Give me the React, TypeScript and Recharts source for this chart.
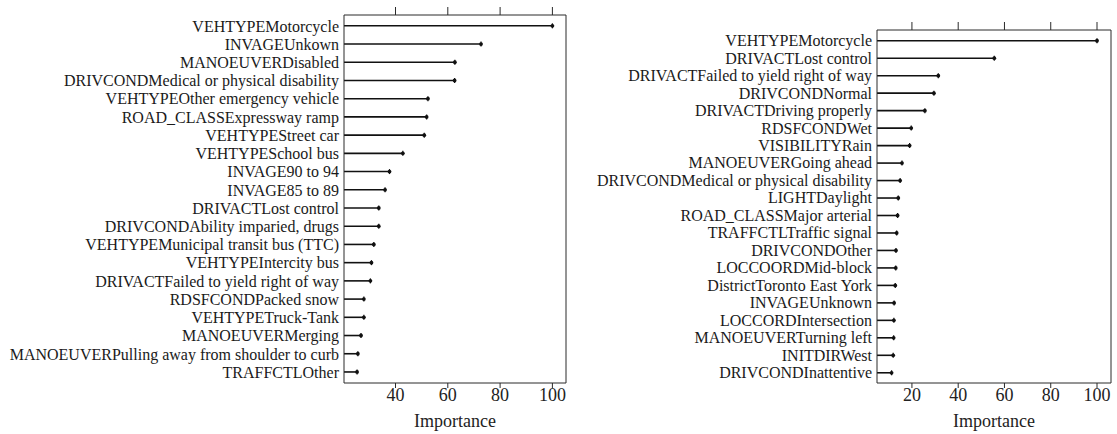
import React from "react";
import { BarChart, Bar, XAxis, YAxis } from "recharts";

const leftLabels = [
  "VEHTYPEMotorcycle",
  "INVAGEUnkown",
  "MANOEUVERDisabled",
  "DRIVCONDMedical or physical disability",
  "VEHTYPEOther emergency vehicle",
  "ROAD_CLASSExpressway ramp",
  "VEHTYPEStreet car",
  "VEHTYPESchool bus",
  "INVAGE90 to 94",
  "INVAGE85 to 89",
  "DRIVACTLost control",
  "DRIVCONDAbility imparied, drugs",
  "VEHTYPEMunicipal transit bus (TTC)",
  "VEHTYPEIntercity bus",
  "DRIVACTFailed to yield right of way",
  "RDSFCONDPacked snow",
  "VEHTYPETruck-Tank",
  "MANOEUVERMerging",
  "MANOEUVERPulling away from shoulder to curb",
  "TRAFFCTLOther",
];
const leftValues = [100, 72.7, 62.7, 62.6, 52.4, 51.9, 51.0, 42.8, 37.7, 36.0, 33.6, 33.6, 31.7, 30.8, 30.4, 27.9, 27.9, 26.8, 25.6, 25.3];
const leftTicks = [40, 60, 80, 100];
const leftDomain = [20.3, 105.2];

const rightLabels = [
  "VEHTYPEMotorcycle",
  "DRIVACTLost control",
  "DRIVACTFailed to yield right of way",
  "DRIVCONDNormal",
  "DRIVACTDriving properly",
  "RDSFCONDWet",
  "VISIBILITYRain",
  "MANOEUVERGoing ahead",
  "DRIVCONDMedical or physical disability",
  "LIGHTDaylight",
  "ROAD_CLASSMajor arterial",
  "TRAFFCTLTraffic signal",
  "DRIVCONDOther",
  "LOCCOORDMid-block",
  "DistrictToronto East York",
  "INVAGEUnknown",
  "LOCCORDIntersection",
  "MANOEUVERTurning left",
  "INITDIRWest",
  "DRIVCONDInattentive",
];
const rightValues = [100, 55.6, 31.4, 29.5, 25.6, 19.7, 19.0, 15.7, 14.9, 14.1, 13.8, 13.4, 13.1, 13.0, 12.8, 12.3, 12.2, 12.1, 11.9, 11.2];
const rightTicks = [20, 40, 60, 80, 100];
const rightDomain = [4.9, 106.05];

const axisTitle = "Importance";

const FONT = "'Liberation Serif', 'Times New Roman', serif";
const INK = "#111";
const BOX = "#2a2a2a";

const Lollipop = (props: any) => {
  const { x, y, width, height } = props;
  if (x == null || y == null) return null;
  const cy = y + height / 2;
  const ex = x + width;
  return (
    <g>
      <line x1={x} y1={cy} x2={ex} y2={cy} stroke={INK} strokeWidth={1.6} />
      <line x1={ex} y1={cy - 2.5} x2={ex} y2={cy + 2.5} stroke={INK} strokeWidth={1.2} />
      <circle cx={ex} cy={cy} r={1.9} fill={INK} />
    </g>
  );
};

type PanelProps = {
  labels: string[];
  values: number[];
  ticks: number[];
  domain: number[];
  width: number;
  yAxisWidth: number;
  marginTop: number;
  marginRight: number;
};

const Panel = ({ labels, values, ticks, domain, width, yAxisWidth, marginTop, marginRight }: PanelProps) => {
  const n = labels.length;
  const data = labels.map((name, i) => ({ name, pos: i + 1, value: values[i] }));
  const posTicks = labels.map((_, i) => i + 1);
  const yDomain = [0.4, n + 0.6];
  const tickStyle = { fontSize: 18, fill: "#222", fontFamily: FONT };
  return (
    <BarChart
      width={width}
      height={434}
      data={data}
      layout="vertical"
      margin={{ top: marginTop, right: marginRight, left: 0, bottom: 0 }}
      barCategoryGap={0}
    >
      <XAxis
        type="number"
        domain={domain}
        allowDataOverflow
        ticks={ticks}
        height={51}
        stroke={BOX}
        tickSize={5}
        tickMargin={0}
        tick={tickStyle}
        label={{ value: axisTitle, position: "insideBottom", offset: 7, style: { fontSize: 18, fill: "#222", fontFamily: FONT } }}
      />
      <XAxis
        xAxisId="top"
        orientation="top"
        type="number"
        domain={domain}
        allowDataOverflow
        ticks={ticks}
        height={8}
        stroke={BOX}
        tickSize={8}
        tickFormatter={() => ""}
      />
      <YAxis
        type="number"
        dataKey="pos"
        domain={yDomain}
        allowDataOverflow
        ticks={posTicks}
        interval={0}
        width={yAxisWidth}
        stroke={BOX}
        tickLine={false}
        tickSize={0}
        tickMargin={5}
        tick={{ fontSize: 16, fill: "#1a1a1a", fontFamily: FONT }}
        tickFormatter={(v: number) => labels[v - 1] ?? ""}
      />
      <YAxis
        yAxisId="r"
        orientation="right"
        type="number"
        domain={yDomain}
        allowDataOverflow
        width={1}
        stroke={BOX}
        tick={false}
        tickLine={false}
      />
      <Bar dataKey="value" barSize={4} shape={<Lollipop />} isAnimationActive={false} />
    </BarChart>
  );
};

export default function App() {
  return (
    <div style={{ position: "absolute", left: 0, top: 0, width: 1117, height: 434, background: "#fff", overflow: "hidden" }}>
      <div style={{ position: "absolute", left: 0, top: 0 }}>
        <Panel
          labels={leftLabels}
          values={leftValues}
          ticks={leftTicks}
          domain={leftDomain}
          width={580}
          yAxisWidth={344}
          marginTop={7}
          marginRight={13}
        />
      </div>
      <div style={{ position: "absolute", left: 580, top: 0 }}>
        <Panel
          labels={rightLabels}
          values={rightValues}
          ticks={rightTicks}
          domain={rightDomain}
          width={537}
          yAxisWidth={297}
          marginTop={22}
          marginRight={5}
        />
      </div>
    </div>
  );
}
